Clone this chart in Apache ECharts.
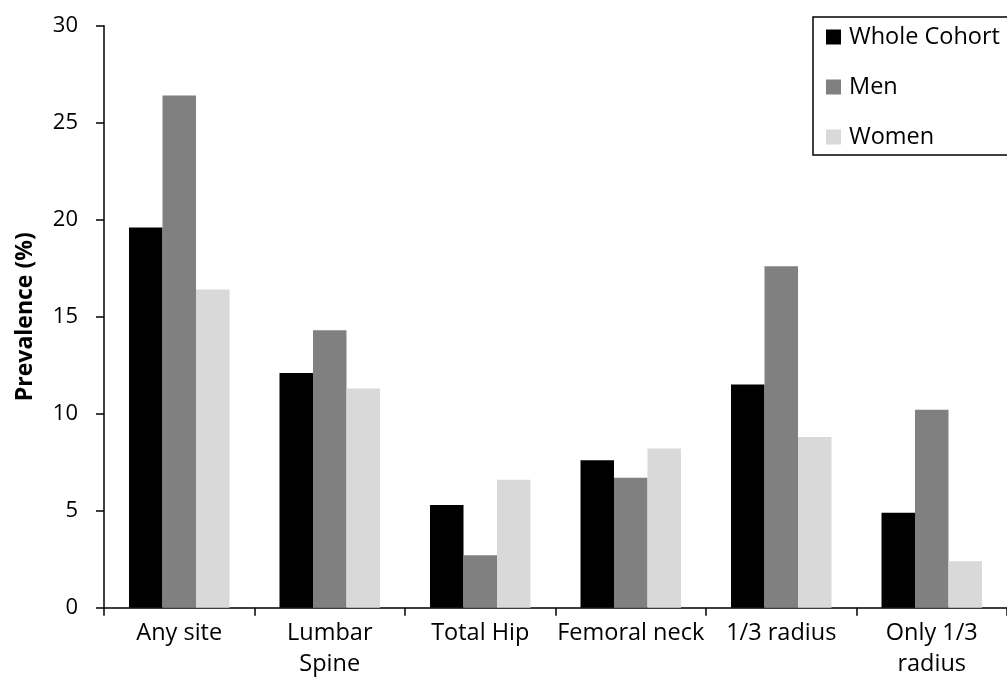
<!DOCTYPE html>
<html>
<head>
<meta charset="utf-8">
<script src="https://cdn.jsdelivr.net/npm/echarts@6/dist/echarts.min.js"></script>
<style>
  html, body { margin: 0; padding: 0; background: #fff; overflow: hidden; }
  #chartDiv { width: 1007px; height: 690px; }
</style>
</head>
<body>
<div id="chartDiv"></div>
<script>
// categories and prevalence values (%)
var sites = ['Any site', 'Lumbar\nSpine', 'Total Hip', 'Femoral neck', '1/3 radius', 'Only 1/3\nradius'];
var wholeCohort = [19.6, 12.1, 5.3, 7.6, 11.5, 4.9];
var men = [26.4, 14.3, 2.7, 6.7, 17.6, 10.2];
var women = [16.4, 11.3, 6.6, 8.2, 8.8, 2.4];
var yTicks = { min: 0, max: 30, interval: 5 };

var fontName = 'Open Sans';

var chart = echarts.init(document.getElementById('chartDiv'), null, { renderer: 'canvas' });

var option = {
  backgroundColor: '#ffffff',
  animation: false,
  textStyle: { fontFamily: fontName, color: '#000' },
  // legend frame is cut by the right edge in the original: draw top, left and bottom sides only
  graphic: [{
    type: 'polyline',
    shape: { points: [[1040, 17], [813, 17], [813, 155], [1040, 155]] },
    style: { fill: null, stroke: '#000', lineWidth: 1.5 },
    z: 10
  }],
  legend: {
    left: 813,
    top: 17,
    orient: 'vertical',
    icon: 'rect',
    itemWidth: 15,
    itemHeight: 15,
    itemGap: 26,
    padding: [8, 0, 7, 13],
    textStyle: { fontFamily: fontName, fontSize: 23.5, color: '#000', lineHeight: 24, padding: [0, 0, 0, 3] },
    data: ['Whole Cohort', 'Men', 'Women']
  },
  grid: { left: 104, top: 25.7, width: 909, height: 582, containLabel: false },
  xAxis: {
    type: 'category',
    data: sites,
    axisLine: { lineStyle: { color: '#000', width: 1.5 } },
    axisTick: { show: true, length: 8, inside: false, lineStyle: { color: '#000', width: 1.5 } },
    axisLabel: { fontFamily: fontName, fontSize: 23.5, color: '#000', margin: 10, lineHeight: 31, interval: 0 },
    splitLine: { show: false }
  },
  yAxis: {
    type: 'value',
    min: yTicks.min,
    max: yTicks.max,
    interval: yTicks.interval,
    name: 'Prevalence (%)',
    nameLocation: 'middle',
    nameGap: 67,
    nameTextStyle: { fontFamily: fontName, fontSize: 23, fontWeight: 'bold', color: '#000' },
    axisLine: { show: true, lineStyle: { color: '#000', width: 1.5 } },
    axisTick: { show: true, length: 8, lineStyle: { color: '#000', width: 1.5 } },
    axisLabel: { fontFamily: fontName, fontSize: 22, color: '#000', margin: 26 },
    splitLine: { show: false }
  },
  series: [
    { name: 'Whole Cohort', type: 'bar', data: wholeCohort, barWidth: 33.5, barGap: '0%', itemStyle: { color: '#000000' } },
    { name: 'Men', type: 'bar', data: men, barWidth: 33.5, barGap: '0%', itemStyle: { color: '#808080' } },
    { name: 'Women', type: 'bar', data: women, barWidth: 33.5, barGap: '0%', itemStyle: { color: '#d9d9d9' } }
  ]
};

chart.setOption(option);

window.addEventListener('resize', function () {
  chart.resize();
});
</script>
</body>
</html>
